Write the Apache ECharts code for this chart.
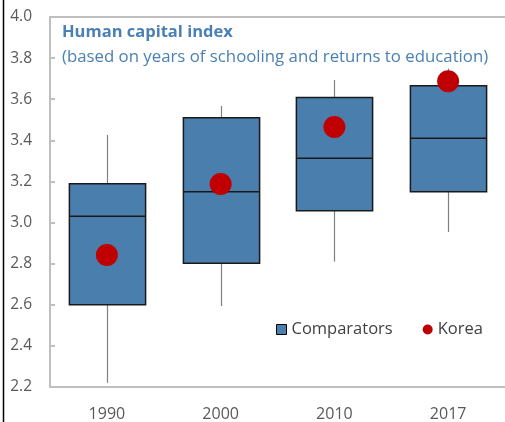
<!DOCTYPE html>
<html><head><meta charset="utf-8">
<script src="https://cdn.jsdelivr.net/npm/echarts@6/dist/echarts.min.js"></script>
<style>html,body{margin:0;padding:0;background:#fff}#c{width:505px;height:422px}</style>
</head><body><div id="c"></div>
<script>
var categories = ['1990', '2000', '2010', '2017'];
var whiskerLow  = [2.22, 2.594, 2.81, 2.954];
var q1Values    = [2.60, 2.802, 3.058, 3.150];
var medianVals  = [3.031, 3.150, 3.313, 3.410];
var q3Values    = [3.189, 3.510, 3.608, 3.666];
var whiskerHigh = [3.426, 3.567, 3.694, 3.749];
var korea       = [2.842, 3.188, 3.465, 3.687];
var yTicks = [2.2, 2.4, 2.6, 2.8, 3.0, 3.2, 3.4, 3.6, 3.8, 4.0];

var FONT = 'Open Sans';
var boxData = categories.map(function (c, i) {
  return [i, whiskerLow[i], q1Values[i], medianVals[i], q3Values[i], whiskerHigh[i]];
});
var chart = echarts.init(document.getElementById('c'), null, {renderer: 'canvas'});
chart.setOption({
  animation: false,
  backgroundColor: '#fff',
  textStyle: {fontFamily: FONT},
  grid: {left: 50, top: 17, width: 460, height: 370, containLabel: false},
  title: [{
    text: 'Human capital index',
    subtext: '(based on years of schooling and returns to education)',
    left: 57, top: 19, itemGap: 8,
    textStyle: {fontFamily: FONT, fontSize: 16.5, fontWeight: 'bold', color: '#4a80b4'},
    subtextStyle: {fontFamily: FONT, fontSize: 16.8, color: '#4a80b4'}
  }],
  legend: {
    left: 271, top: 316, itemWidth: 10, itemHeight: 10, itemGap: 30,
    textStyle: {fontFamily: FONT, fontSize: 16.5, color: '#404040'},
    data: [
      {name: 'Comparators', icon: 'rect', itemStyle: {color: '#4a7eac', borderColor: '#000', borderWidth: 1}},
      {name: 'Korea', icon: 'circle', itemStyle: {color: '#c00000', borderWidth: 0}}
    ]
  },
  xAxis: [{
    type: 'category', data: categories, boundaryGap: true,
    axisLine: {lineStyle: {color: '#bfbfbf', width: 2}},
    axisTick: {inside: true, length: 5, lineStyle: {color: '#bfbfbf', width: 2}},
    axisLabel: {fontFamily: FONT, fontSize: 16, color: '#595959', margin: 19}
  }, {
    type: 'category', data: categories, position: 'top',
    axisLine: {lineStyle: {color: '#bfbfbf', width: 2}},
    axisTick: {show: false}, axisLabel: {show: false}
  }],
  yAxis: {
    type: 'value', min: 2.2, max: 4.0, interval: 0.2,
    axisLine: {show: true, lineStyle: {color: '#bfbfbf', width: 2}},
    axisTick: {show: true, inside: true, length: 5, lineStyle: {color: '#bfbfbf', width: 2}},
    splitLine: {show: false},
    axisLabel: {fontFamily: FONT, fontSize: 15.5, color: '#595959', margin: 18,
      formatter: function (v) { return v.toFixed(1); }}
  },
  graphic: [{type: 'line', shape: {x1: 3.5, y1: 0, x2: 3.5, y2: 422}, style: {stroke: '#000', lineWidth: 1.5}, z: 100}],
  series: [{
    name: 'Comparators', type: 'custom', data: boxData,
    itemStyle: {color: '#4a7eac', borderColor: '#000', borderWidth: 1},
    encode: {x: 0, y: [1, 2, 3, 4, 5]},
    renderItem: function (params, api) {
      var i = api.value(0);
      var lo = api.coord([i, api.value(1)]);
      var q1 = api.coord([i, api.value(2)]);
      var md = api.coord([i, api.value(3)]);
      var q3 = api.coord([i, api.value(4)]);
      var hi = api.coord([i, api.value(5)]);
      var bw = api.size([1, 0])[0] * 0.67;
      var x = Math.round(lo[0]) + 0.5;
      var ws = {stroke: '#808080', lineWidth: 1.2};
      var bs = {stroke: '#1a1a1a', lineWidth: 1.5};
      return {type: 'group', children: [
        {type: 'line', shape: {x1: x, y1: hi[1], x2: x, y2: q3[1]}, style: ws},
        {type: 'line', shape: {x1: x, y1: q1[1], x2: x, y2: lo[1]}, style: ws},
        {type: 'rect', shape: {x: x - bw / 2, y: q3[1], width: bw, height: q1[1] - q3[1]},
          style: {fill: '#4a7eac', stroke: '#1a1a1a', lineWidth: 1.5}},
        {type: 'line', shape: {x1: x - bw / 2, y1: md[1], x2: x + bw / 2, y2: md[1]}, style: bs}
      ]};
    },
    z: 2
  }, {
    name: 'Korea', type: 'scatter', data: korea, symbol: 'circle', symbolSize: 22,
    itemStyle: {color: '#c00000', opacity: 1}, z: 5
  }]
});
</script></body></html>
